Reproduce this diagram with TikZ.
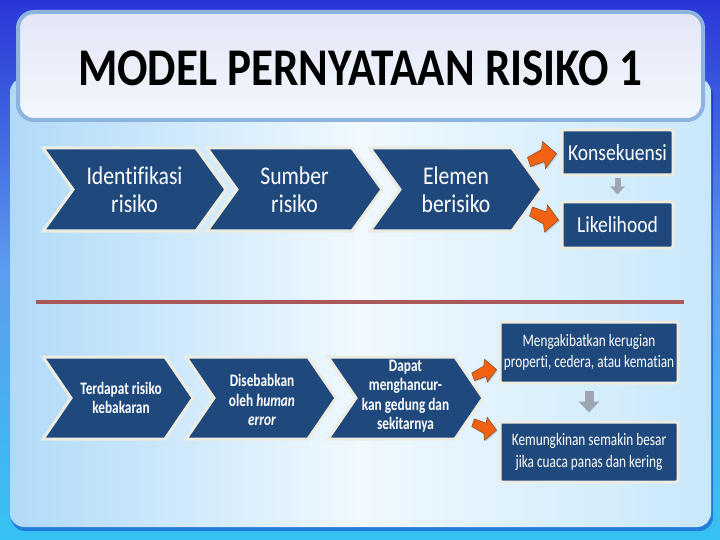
\documentclass[tikz,border=0pt]{standalone}
\usepackage{fontspec}
\setmainfont{Carlito}[FakeStretch=0.85, Ligatures=CommonOff]
\newfontfamily\condfont{Carlito}[FakeStretch=0.76, Ligatures=CommonOff]
\usetikzlibrary{arrows.meta,calc,shadows}
\definecolor{bgA}{RGB}{40,54,214}
\definecolor{bgB}{RGB}{92,156,238}
\definecolor{bgC}{RGB}{54,194,242}
\definecolor{panL}{RGB}{176,218,248}
\definecolor{panM}{RGB}{240,249,254}
\definecolor{panR}{RGB}{200,232,250}
\definecolor{ttop}{RGB}{228,230,246}
\definecolor{tbot}{RGB}{242,248,253}
\definecolor{tedge}{RGB}{140,180,222}
\definecolor{chev}{RGB}{31,73,125}
\definecolor{chevedge}{RGB}{236,236,226}
\definecolor{org}{RGB}{240,98,18}
\definecolor{orgedge}{RGB}{150,80,40}
\definecolor{garr}{RGB}{158,166,180}
\definecolor{redline}{RGB}{168,88,88}
\tikzset{
  chevbox/.style={fill=chev, draw=chevedge, line width=3, line join=miter},
  darkbox/.style={fill=chev, draw=chevedge, line width=3, rounded corners=2,
    text=white, align=center, inner sep=0},
  bigtext/.style={text=white, align=center, font=\fontsize{25.5}{28}\selectfont},
  smalltext/.style={text=white, align=center, font=\condfont\bfseries\fontsize{17.5}{19.5}\selectfont},
  boxtextA/.style={font=\fontsize{23}{27}\selectfont},
  boxtextB/.style={font=\condfont\fontsize{17.5}{21.5}\selectfont},
  orangearrow/.style={fill=org, draw=orgedge, line width=0.6, line join=miter,
    drop shadow={shadow xshift=1.2pt, shadow yshift=-1.2pt, opacity=0.35}},
  grayarrowA/.style={draw=garr, line width=6, -{Triangle[width=14pt,length=8pt]}},
  grayarrowB/.style={draw=garr, line width=9, -{Triangle[width=20pt,length=11pt]}}
}
% #1 left x, #2 tip x, #3 top y, #4 bottom y, #5 depth
\newcommand\mychev[5]{%
  \path[chevbox] (#1,#3) -- ({#2-#5},#3) -- (#2,{(#3+#4)/2}) -- ({#2-#5},#4)
    -- (#1,#4) -- ({#1+#5},{(#3+#4)/2}) -- cycle;}
\newcommand\orangeshape{%
  (0,0) -- (-14,-12) -- (-15,-4) -- (-29,4) -- (-26,13) -- (-12,8) -- (-11,15) -- cycle}
\begin{document}
\begin{tikzpicture}[x=1pt,y=-1pt]
\useasboundingbox (0,0) rectangle (720,540);
% background
\shade[top color=bgA, bottom color=bgC, middle color=bgB] (0,0) rectangle (720,540);
% panel
\fill[black!30!blue, opacity=0.35, rounded corners=14] (11,82) rectangle (713,531);
\shade[left color=panL, right color=panR, middle color=panM, rounded corners=14]
  (10,78) rectangle (711,527);
% title box
\draw[line width=4, draw=tedge, top color=ttop, bottom color=tbot, rounded corners=16]
  (18,12) rectangle (703,120);
\node[font=\bfseries\fontsize{53}{60}\selectfont] (title) at (360,68) {MODEL PERNYATAAN RISIKO 1};

% ---- row 1 ----
\mychev{43}{226}{148}{231}{30}
\mychev{207}{382}{148}{231}{30}
\mychev{370}{542}{148}{231}{30}
\node[bigtext] (a1) at (134.5,189.5) {Identifikasi\\risiko};
\node[bigtext] (a2) at (294.5,189.5) {Sumber\\risiko};
\node[bigtext] (a3) at (456,189.5) {Elemen\\berisiko};

\node[darkbox, boxtextA, minimum width=111, minimum height=45] (kons) at (617.5,152.5) {Konsekuensi};
\node[darkbox, boxtextA, minimum width=111, minimum height=46] (like) at (617.5,225) {Likelihood};
\draw[grayarrowA] ($(kons.south)+(0,2)$) -- ($(like.north)+(0,-6)$);

\begin{scope}[shift={($(kons.west)+(-4,1)$)}]
  \path[orangearrow] \orangeshape;
\end{scope}
\begin{scope}[shift={($(like.west)+(-2,-5)$)}, yscale=-1]
  \path[orangearrow] \orangeshape;
\end{scope}

% separator line
\draw[redline, line width=4] (36,302) -- (684,302);

% ---- row 2 ----
\mychev{43}{193}{357}{439}{28}
\mychev{186}{336}{357}{439}{28}
\mychev{328}{483}{357}{439}{28}
\node[smalltext] (b1) at (121,398) {Terdapat risiko\\kebakaran};
\node[smalltext] (b2) at (262,400) {Disebabkan\\oleh \textit{human}\\\textit{error}};
\node[smalltext] (b3) at (405.5,396) {Dapat\\menghancur-\\kan gedung dan\\sekitarnya};

\node[darkbox, boxtextB, minimum width=178, minimum height=61] (akib) at (589,352.5) {Mengakibatkan kerugian\\properti, cedera, atau kematian};
\node[darkbox, boxtextB, minimum width=178, minimum height=60] (mung) at (589,452) {Kemungkinan semakin besar\\jika cuaca panas dan kering};
\draw[grayarrowB] ($(akib.south)+(0,6)$) -- ($(mung.north)+(0,-8)$);

\begin{scope}[shift={($(akib.west)+(-2,17)$)}, scale=0.85]
  \path[orangearrow] \orangeshape;
\end{scope}
\begin{scope}[shift={($(mung.west)+(-2,-22)$)}, xscale=0.85, yscale=-0.85]
  \path[orangearrow] \orangeshape;
\end{scope}
\end{tikzpicture}
\end{document}
